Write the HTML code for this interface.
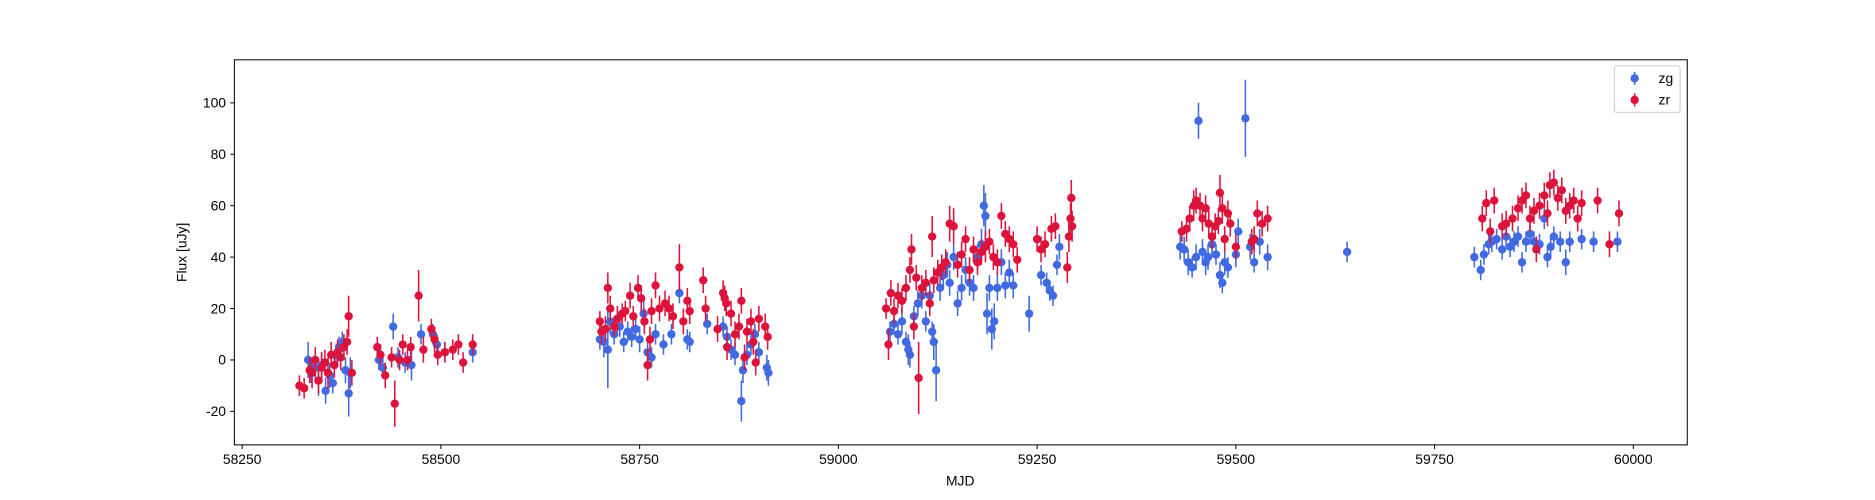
<!DOCTYPE html>
<html><head><meta charset="utf-8">
<style>
html,body{margin:0;padding:0;background:#fff;}
svg{display:block;font-family:"Liberation Sans","DejaVu Sans",sans-serif;}
</style></head>
<body>
<svg id="chart" width="1875" height="500" viewBox="0 0 1568 418.1" preserveAspectRatio="none" xmlns="http://www.w3.org/2000/svg">
<rect x="0" y="0" width="1568" height="418.1" fill="#fff"/>
<g id="marks"></g>
<rect x="196" y="50" width="1215" height="322" fill="none" stroke="#000" stroke-width="0.85"/>
<g id="xaxis"></g>
<g id="yaxis"></g>
<text x="803" y="406" font-size="11.6" text-anchor="middle">MJD</text>
<text transform="translate(156,211) rotate(-90)" font-size="11.6" text-anchor="middle">Flux [uJy]</text>
<g>
<rect x="1350" y="55" width="55" height="39" rx="2" fill="#fff" fill-opacity="0.8" stroke="#ccc" stroke-width="0.85"/>
<g>
<line x1="1367" y1="60" x2="1367" y2="71" stroke="#4169e1" stroke-width="1.3"/>
<circle cx="1367" cy="65.5" r="3.5" fill="#4169e1"/>
<text x="1387" y="69.5" font-size="11.6">zg</text></g>
<g>
<line x1="1367" y1="78" x2="1367" y2="89" stroke="#dc143c" stroke-width="1.3"/>
<circle cx="1367" cy="83.5" r="3.5" fill="#dc143c"/>
<text x="1387" y="87.5" font-size="11.6">zr</text></g>
</g>
</svg>
<script>
const xTicks=[58250,58500,58750,59000,59250,59500,59750,60000];
const yTicks=[-20,0,20,40,60,80,100];
const zgMjd=[58333,58337,58342,58346,58350,58355,58360,58364,58368,58372,58376,58380,58384,58386,58422,58427,58440,58446,58455,58463,58475,58490,58495,58505,58540,
58700,58705,58710,58713,58718,58725,58730,58735,58740,58745,58750,58755,58760,58765,58770,58780,58790,58800,58810,58813,58835,58855,58860,58865,58870,58878,58880,58885,58890,58895,58900,58910,58912,
59065,59070,59075,59080,59085,59088,59090,59095,59100,59105,59110,59115,59118,59120,59123,59128,59132,59137,59140,59145,59150,59155,59160,59165,59170,59175,59180,59183,59185,59187,59190,59193,59196,59200,59205,59210,59215,59220,59240,59255,59262,59266,59270,59275,59278,
59430,59435,59440,59445,59450,59453,59458,59462,59465,59470,59475,59480,59483,59486,59490,59500,59503,59512,59518,59523,59530,59540,59640,
59800,59808,59812,59818,59822,59828,59835,59840,59845,59850,59855,59860,59865,59870,59875,59882,59888,59892,59896,59900,59908,59915,59920,59935,59950,59980];
const zgFlux=[0,-5,-3,-8,-2,-12,-6,-9,2,5,7,-4,-13,-5,0,-3,13,1,-1,-2,10,10,6,3,3,
8,7,4,15,10,13,7,11,9,12,8,18,3,1,10,6,10,26,8,7,14,13,9,4,2,-16,-4,2,6,10,3,-3,-5,
11,14,10,15,7,4,2,17,22,25,15,25,11,7,-4,28,33,37,30,40,22,28,35,30,28,40,45,60,56,18,28,12,15,28,38,29,34,29,18,33,30,27,25,37,44,
44,43,38,36,40,93,42,38,40,45,41,33,30,38,36,41,50,94,44,38,46,40,42,
40,35,41,45,46,47,43,48,44,46,48,38,46,49,46,45,55,40,44,48,46,38,46,47,46,46];
const zgErr=[7,4,5,6,5,5,5,4,4,4,4,5,9,6,4,4,5,4,4,6,4,4,4,4,4,
4,6,15,5,4,4,4,4,4,4,5,5,4,4,4,4,4,4,4,4,4,4,4,4,4,8,5,4,4,4,4,5,5,
4,4,4,5,4,6,5,4,5,5,4,5,4,7,12,5,5,5,5,5,5,5,5,5,5,5,6,8,9,8,5,8,7,5,5,5,5,5,7,4,4,4,4,4,5,
5,5,5,4,5,7,5,5,5,5,4,5,4,5,4,5,5,15,5,4,5,5,4,
4,4,4,4,4,4,4,4,4,4,4,4,4,4,4,4,4,4,4,4,4,5,4,4,4,4];
const zrMjd=[58322,58328,58335,58338,58342,58346,58350,58354,58358,58362,58366,58370,58374,58378,58382,58384,58388,58420,58424,58430,58438,58442,58448,58452,58458,58462,58472,58478,58488,58492,58496,58505,58515,58522,58528,58540,
58700,58702,58707,58710,58713,58718,58722,58728,58732,58738,58742,58748,58752,58756,58760,58763,58765,58770,58775,58782,58787,58792,58800,58805,58810,58813,58830,58833,58848,58855,58857,58859,58860,58865,58870,58875,58878,58882,58885,58890,58893,58896,58900,58908,58911,
59060,59063,59066,59070,59075,59080,59085,59090,59092,59095,59098,59101,59105,59110,59115,59118,59120,59125,59130,59135,59140,59145,59150,59155,59160,59165,59170,59175,59180,59185,59190,59195,59200,59205,59210,59215,59220,59225,59250,59255,59260,59268,59273,59288,59290,59292,59293,59294,
59432,59438,59442,59447,59450,59455,59458,59462,59466,59470,59474,59478,59480,59483,59486,59490,59493,59500,59520,59523,59527,59533,59540,
59810,59815,59820,59825,59835,59840,59848,59855,59860,59865,59870,59875,59878,59882,59888,59892,59895,59900,59905,59910,59915,59920,59925,59930,59935,59955,59970,59982];
const zrFlux=[-10,-11,-4,-5,0,-8,-3,-1,-5,2,-2,3,1,5,7,17,-5,5,2,-6,1,-17,0,6,0,5,25,4,12,8,2,3,4,6,-1,6,
15,11,12,28,20,13,16,18,19,25,17,28,24,15,-2,8,19,29,20,22,20,17,36,15,23,19,31,20,12,26,24,22,5,18,10,13,23,1,11,15,7,-1,16,13,9,
20,6,26,19,25,23,28,35,43,13,32,-7,28,30,22,48,31,34,36,38,53,52,37,41,47,35,43,38,42,44,46,40,38,56,49,47,45,39,47,43,45,51,52,36,48,55,63,52,
50,51,55,60,62,60,55,59,53,48,52,54,65,59,47,57,53,44,46,47,57,53,55,
55,61,50,62,52,53,55,59,62,64,55,58,43,60,64,57,68,69,63,66,58,60,62,55,61,62,45,57];
const zrErr=[4,4,5,6,5,5,6,5,6,5,5,5,5,5,5,8,5,4,4,5,4,9,4,4,4,4,10,5,4,5,4,4,4,4,4,4,
4,5,5,6,5,4,5,4,4,5,4,5,5,5,6,5,5,5,5,5,5,5,9,5,5,5,5,5,5,5,5,5,5,5,5,5,5,5,5,5,5,5,5,5,5,
4,6,5,5,5,5,5,5,6,5,5,14,5,5,5,8,5,5,5,5,7,7,5,5,5,5,5,5,5,6,5,5,5,5,5,5,5,5,5,5,5,5,5,6,6,6,7,6,
4,5,5,6,5,5,5,5,5,5,5,5,7,6,5,5,5,5,5,5,5,5,5,
5,5,5,5,5,5,5,5,5,5,5,5,5,5,5,5,5,5,5,5,5,5,5,5,5,5,5,5];

const NS="http://www.w3.org/2000/svg";
function X(v){return 202.5+(v-58250)*0.6648;}
function Y(v){return 301-v*2.15;}
function mk(tag,attrs,parent){const e=document.createElementNS(NS,tag);for(const k in attrs)e.setAttribute(k,attrs[k]);parent.appendChild(e);return e;}

const xa=document.getElementById('xaxis');
xTicks.forEach(t=>{
  const g=mk('g',{},xa);
  
  
  mk('line',{x1:X(t),x2:X(t),y1:372,y2:375.5,stroke:'#000','stroke-width':0.85},g);
  const tx=mk('text',{x:X(t),y:388,'font-size':'11.6','text-anchor':'middle'},g);
  tx.textContent=t;
});
const ya=document.getElementById('yaxis');
yTicks.forEach(t=>{
  const g=mk('g',{},ya);
  
  
  mk('line',{x1:192.5,x2:196,y1:Y(t),y2:Y(t),stroke:'#000','stroke-width':0.85},g);
  const tx=mk('text',{x:189,y:Y(t)+4,'font-size':'11.6','text-anchor':'end'},g);
  tx.textContent=t;
});
const marks=document.getElementById('marks');
function series(mj,fl,er,color,name){
  const g=mk('g',{},marks);
  
  
  for(let i=0;i<mj.length;i++){
    const l=mk('line',{x1:X(mj[i]),x2:X(mj[i]),y1:Y(fl[i]-er[i]),y2:Y(fl[i]+er[i]),stroke:color,'stroke-width':1.3},g);
    
    
  }
  for(let i=0;i<mj.length;i++){
    const c=mk('circle',{cx:X(mj[i]),cy:Y(fl[i]),r:3.5,fill:color},g);
    
    
  }
}
series(zgMjd,zgFlux,zgErr,'#4169e1','zg');
series(zrMjd,zrFlux,zrErr,'#dc143c','zr');
</script>
</body></html>
